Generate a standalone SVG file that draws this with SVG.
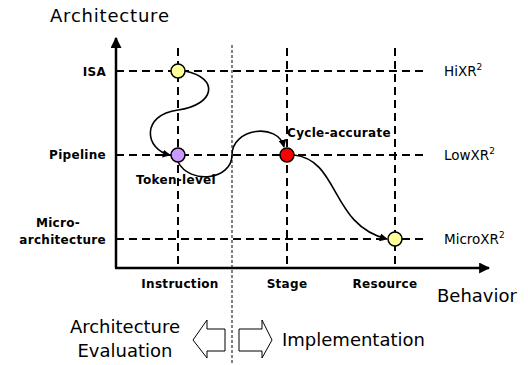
<svg xmlns="http://www.w3.org/2000/svg" width="528" height="365" viewBox="0 0 528 365">
<style>
.dash{stroke:#000;stroke-width:2;stroke-dasharray:8,5;fill:none}
.axis{stroke:#000;stroke-width:2.5;fill:none}
.curve{stroke:#000;stroke-width:1.6;fill:none}
.lbl{font-family:"DejaVu Sans",sans-serif;font-weight:bold;font-size:12px;letter-spacing:0.3px;fill:#000}
.big{font-family:"DejaVu Sans",sans-serif;font-size:18px;fill:#000}
.xr{font-family:"DejaVu Sans",sans-serif;font-size:13.5px;fill:#000}
.node{stroke:#000;stroke-width:1.5}
.hollow{fill:#fff;stroke:#000;stroke-width:1}
</style>
<defs>
<marker id="ah" viewBox="0 0 10 10" refX="9" refY="5" markerWidth="8" markerHeight="8" orient="auto" markerUnits="userSpaceOnUse">
<path d="M0,0 L10,5 L0,10 z" fill="#000"/>
</marker>
<marker id="big" viewBox="0 0 10 10" refX="9" refY="5" markerWidth="11" markerHeight="11" orient="auto" markerUnits="userSpaceOnUse">
<path d="M0,0 L10,5 L0,10 z" fill="#000"/>
</marker>
</defs>
<g id="grid">
<line class="dash" x1="116" y1="71" x2="425" y2="71"/>
<line class="dash" x1="116" y1="155" x2="425" y2="155"/>
<line class="dash" x1="116" y1="239" x2="425" y2="239"/>
<line class="dash" x1="178" y1="48" x2="178" y2="268"/>
<line class="dash" x1="287" y1="48" x2="287" y2="268"/>
<line class="dash" x1="395" y1="48" x2="395" y2="268"/>
<line x1="232" y1="45" x2="232" y2="365" stroke="#000" stroke-width="1" stroke-dasharray="3,2"/>
</g>
<g id="axes">
<line class="axis" x1="116" y1="268" x2="116" y2="38" marker-end="url(#big)"/>
<line class="axis" x1="115" y1="268" x2="489" y2="268" marker-end="url(#big)"/>
</g>
<g id="connectors">
<path class="curve" d="M185,71 C220,78 215,105 178,110 C140,115 145,150 170,155" marker-end="url(#ah)"/>
<path class="curve" d="M178,162 C190,185 232,180 232,155 C232,128 278,122 284,147" marker-end="url(#ah)"/>
<path class="curve" d="M294,155 C340,160 330,225 387,239" marker-end="url(#ah)"/>
</g>
<g id="n-isa"><circle class="node" cx="178" cy="71" r="7" fill="#ffff99"/></g>
<g id="n-token"><circle class="node" cx="178" cy="155" r="7" fill="#cc99ff"/></g>
<g id="n-cycle"><circle class="node" cx="287" cy="155" r="7" fill="#ff0000"/></g>
<g id="n-micro"><circle class="node" cx="395" cy="239" r="7" fill="#ffff99"/></g>
<g id="labels">
<text class="big" x="50" y="22" letter-spacing="0.8">Architecture</text>
<text class="big" x="437" y="302">Behavior</text>
<text class="lbl" x="106" y="76" text-anchor="end">ISA</text>
<text class="lbl" x="106" y="159" text-anchor="end">Pipeline</text>
<text class="lbl" x="58" y="227" text-anchor="middle">Micro-</text>
<text class="lbl" x="106" y="244" text-anchor="end">architecture</text>
<text class="lbl" x="180" y="288" text-anchor="middle">Instruction</text>
<text class="lbl" x="287" y="288" text-anchor="middle">Stage</text>
<text class="lbl" x="385" y="288" text-anchor="middle">Resource</text>
<text class="lbl" x="176" y="184" text-anchor="middle">Token-level</text>
<text class="lbl" x="339" y="137" text-anchor="middle">Cycle-accurate</text>
<text class="xr" x="444" y="76">HiXR<tspan font-size="9" dy="-6">2</tspan></text>
<text class="xr" x="444" y="160">LowXR<tspan font-size="9" dy="-6">2</tspan></text>
<text class="xr" x="444" y="244">MicroXR<tspan font-size="9" dy="-6">2</tspan></text>
<text class="big" x="125" y="333" text-anchor="middle">Architecture</text>
<text class="big" x="125" y="357" text-anchor="middle">Evaluation</text>
<text class="big" x="282" y="346">Implementation</text>
</g>
<g id="arrows">
<path class="hollow" d="M225,329 L207,329 L207,320 L193,340 L207,358 L207,351 L225,351 Z"/>
<path class="hollow" d="M239,329 L262,329 L262,320 L272,340 L262,358 L262,351 L239,351 Z"/>
</g>
</svg>
